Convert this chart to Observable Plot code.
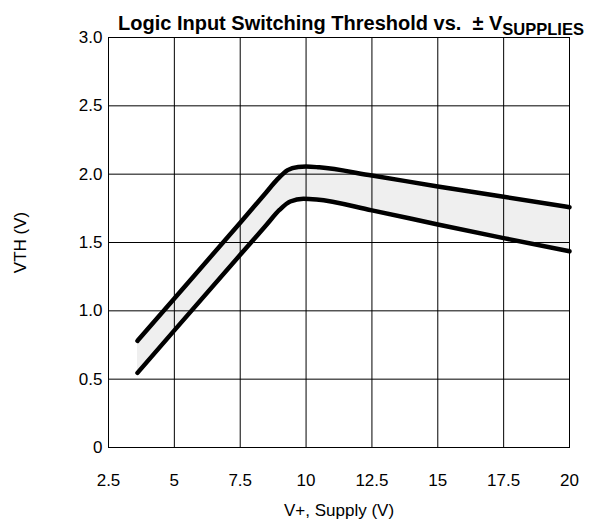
<!DOCTYPE html>
<html>
<head>
<meta charset="utf-8">
<script src="https://cdn.jsdelivr.net/npm/d3@7"></script>
<script src="https://cdn.jsdelivr.net/npm/@observablehq/plot@0.6"></script>
<style>
  body { margin: 0; background: #fff; font-family: "Liberation Sans", Arial, sans-serif; }
  #wrap { position: relative; width: 589px; height: 525px; }
  #title { position: absolute; top: 12px; left: 0; width: 589px; padding-left: 118px; box-sizing: border-box;
           font-weight: bold; font-size: 20px; white-space: nowrap; color: #000; line-height: 22px; }
  #title sub { font-size: 16.5px; vertical-align: -5px; line-height: 0; }
  #chart { position: absolute; top: 0; left: 0; }
</style>
</head>
<body>
<div id="wrap">
  <div id="chart"></div>
  <div id="title">Logic Input Switching Threshold vs. &nbsp;± V<sub>SUPPLIES</sub></div>
</div>
<script>
// Supply voltage samples (V) and threshold voltages (V)
const supplyUpper = [3.6, 5, 7.5, 8.5, 8.9, 9.3, 9.7, 10, 10.5, 12.5, 15, 17.5, 20];
const vthUpper    = [0.78, 1.09, 1.645, 1.87, 1.96, 2.03, 2.053, 2.056, 2.05, 1.99, 1.91, 1.835, 1.758];
const supplyLower = [3.6, 5, 7.5, 8.5, 9, 9.4, 9.9, 10.4, 12.5, 15, 17.5, 20];
const vthLower    = [0.546, 0.857, 1.41, 1.63, 1.74, 1.80, 1.82, 1.815, 1.735, 1.632, 1.532, 1.436];

const xTicks = [2.5, 5, 7.5, 10, 12.5, 15, 17.5, 20];
const xTickLabels = ["2.5", "5", "7.5", "10", "12.5", "15", "17.5", "20"];
const yTicks = [0, 0.5, 1.0, 1.5, 2.0, 2.5, 3.0];
const yTickLabels = ["0", "0.5", "1.0", "1.5", "2.0", "2.5", "3.0"];

const upper = supplyUpper.map((x, i) => ({x, y: vthUpper[i]}));
const lower = supplyLower.map((x, i) => ({x, y: vthLower[i]}));

function interp(xs, ys, x) {
  for (let i = 0; i < xs.length - 1; i++) {
    if (x >= xs[i] && x <= xs[i + 1]) {
      const t = (x - xs[i]) / (xs[i + 1] - xs[i]);
      return ys[i] + t * (ys[i + 1] - ys[i]);
    }
  }
  return ys[ys.length - 1];
}
const bandX = Array.from(new Set([...supplyUpper, ...supplyLower])).sort((a, b) => a - b);
const band = bandX.map(x => ({x, lo: interp(supplyLower, vthLower, x), hi: interp(supplyUpper, vthUpper, x)}));

const chart = Plot.plot({
  width: 589,
  height: 525,
  marginTop: 37,
  marginBottom: 78,
  marginLeft: 108,
  marginRight: 20,
  style: {fontFamily: "Liberation Sans, Arial, sans-serif", fontSize: "17px", color: "#000", background: "#fff"},
  x: {domain: [2.5, 20], ticks: xTicks, tickFormat: d => xTickLabels[xTicks.indexOf(d)], tickSize: 0, tickPadding: 26,
      label: "V+, Supply (V)", labelAnchor: "center", labelArrow: "none", labelOffset: 68},
  y: {domain: [0, 3], ticks: yTicks, tickFormat: d => yTickLabels[yTicks.indexOf(d)], tickSize: 0, tickPadding: 6,
      label: "VTH (V)", labelAnchor: "center", labelArrow: "none", labelOffset: 95},
  marks: [
    Plot.areaY(band, {x: "x", y1: "lo", y2: "hi", fill: "#efefef", curve: "monotone-x"}),
    Plot.gridX(xTicks, {stroke: "#000", strokeOpacity: 1, strokeWidth: 1}),
    Plot.gridY(yTicks, {stroke: "#000", strokeOpacity: 1, strokeWidth: 1}),
    Plot.frame({stroke: "#000", strokeWidth: 1}),
    Plot.line(upper, {x: "x", y: "y", stroke: "#000", strokeWidth: 4.5, curve: "monotone-x", strokeLinecap: "round"}),
    Plot.line(lower, {x: "x", y: "y", stroke: "#000", strokeWidth: 4.5, curve: "monotone-x", strokeLinecap: "round"})
  ]
});
document.getElementById("chart").appendChild(chart);
</script>
</body>
</html>
